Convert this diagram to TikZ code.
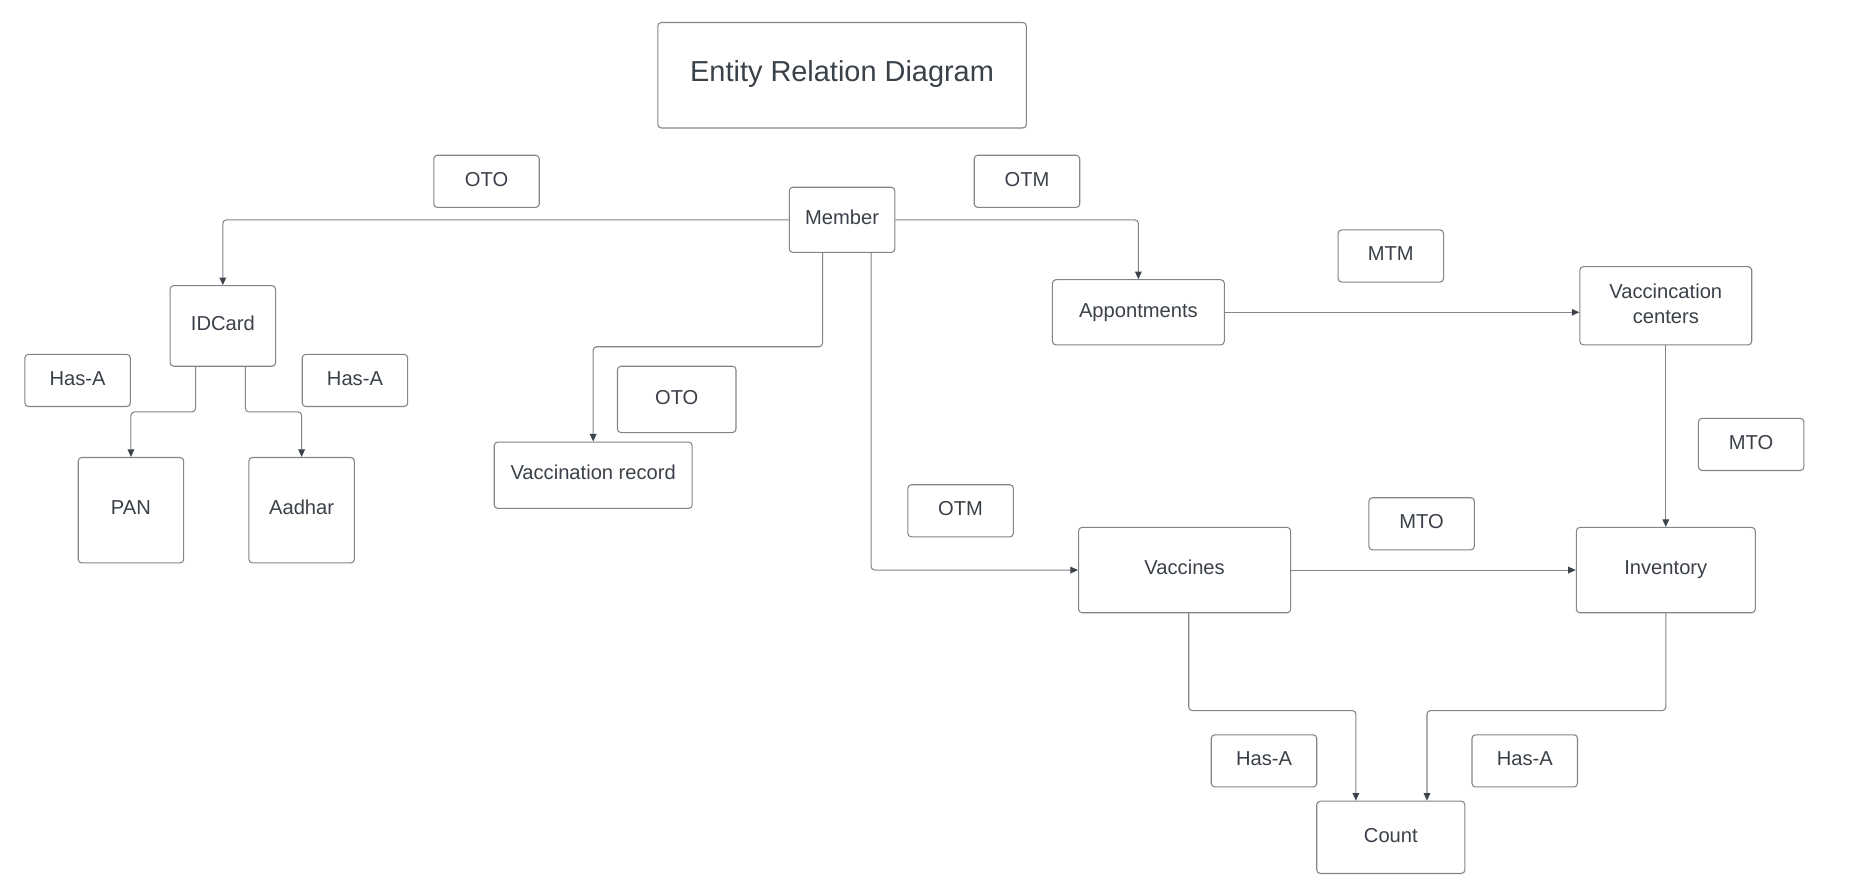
\documentclass[tikz,border=0pt]{standalone}
\usepackage{fontspec}
\setmainfont{Liberation Sans}
\usetikzlibrary{calc,arrows.meta}
\definecolor{bordergray}{HTML}{80858B}
\definecolor{textgray}{HTML}{3B4149}
\definecolor{arrowgray}{HTML}{3D434A}
\tikzset{
  box/.style={draw=bordergray, line width=0.45pt, rounded corners=1.5pt, text=textgray,
    font=\fontsize{8.5pt}{10.5pt}\selectfont, align=center, inner sep=0pt,
    text height=6.5pt, text depth=2.5pt},
  conn/.style={draw=bordergray, line width=0.45pt, rounded corners=1.5pt,
    -{Triangle[length=3.2pt,width=2.8pt,color=arrowgray]}},
}
\begin{document}
\begin{tikzpicture}[x=0.5pt,y=-0.5pt]
\useasboundingbox[fill=white] (0,0) rectangle (1566,741.6);
\node[box, minimum width=155.5pt, minimum height=44.5pt, font=\fontsize{12.2pt}{14pt}\selectfont, text height=9pt, text depth=4pt] (title) at (710.5,63.5) {Entity Relation Diagram};
\node[box, minimum width=44.5pt, minimum height=22pt] (oto1) at (410.5,153) {OTO};
\node[box, minimum width=44.5pt, minimum height=22pt] (otm1) at (866.5,153) {OTM};
\node[box, minimum width=44.5pt, minimum height=27.5pt] (member) at (710.5,185.5) {Member};
\node[box, minimum width=44.5pt, minimum height=34pt] (idcard) at (188,275) {IDCard};
\node[box, minimum width=44.5pt, minimum height=22pt] (hasa1) at (65.5,321) {Has-A};
\node[box, minimum width=44.5pt, minimum height=22pt] (hasa2) at (299.5,321) {Has-A};
\node[box, minimum width=44.5pt, minimum height=44.5pt] (pan) at (110.5,430.5) {PAN};
\node[box, minimum width=44.5pt, minimum height=44.5pt] (aadhar) at (254.5,430.5) {Aadhar};
\node[box, minimum width=83.5pt, minimum height=28pt] (vrec) at (500.5,401) {Vaccination record};
\node[box, minimum width=50pt, minimum height=28pt] (oto2) at (571,337) {OTO};
\node[box, minimum width=72.5pt, minimum height=27.5pt] (appt) at (960.5,263.5) {Appontments};
\node[box, minimum width=44.5pt, minimum height=22pt] (mtm) at (1173.5,216) {MTM};
\node[box, minimum width=72.5pt, minimum height=33pt, text height={}, text depth={}] (vcent) at (1405.5,258) {\begin{tabular}{@{}c@{}}Vaccincation\\centers\end{tabular}};
\node[box, minimum width=44.5pt, minimum height=22pt] (mto1) at (1477.5,375) {MTO};
\node[box, minimum width=44.5pt, minimum height=22pt] (otm2) at (810.5,431) {OTM};
\node[box, minimum width=89.5pt, minimum height=36pt] (vaccines) at (999.5,481) {Vaccines};
\node[box, minimum width=44.5pt, minimum height=22pt] (mto2) at (1199.5,442) {MTO};
\node[box, minimum width=75.5pt, minimum height=36pt] (inventory) at (1405.5,481) {Inventory};
\node[box, minimum width=44.5pt, minimum height=22pt] (hasa3) at (1066.5,642) {Has-A};
\node[box, minimum width=44.5pt, minimum height=22pt] (hasa4) at (1286.5,642) {Has-A};
\node[box, minimum width=62.5pt, minimum height=30.5pt] (count) at (1173.5,706.5) {Count};

\draw[conn] (member.west) -| (idcard.north);
\draw[conn] (member.east) -| (appt.north);
\draw[conn] ($(member.south)+(-16.5,0)$) |- ($(vrec.north)+(0,-80)$) -- (vrec.north);
\draw[conn] ($(member.south)+(24.5,0)$) |- (vaccines.west);
\draw[conn] ($(idcard.south)+(-23,0)$) |- ($(pan.north)+(0,-38)$) -- (pan.north);
\draw[conn] ($(idcard.south)+(19,0)$) |- ($(aadhar.north)+(0,-38)$) -- (aadhar.north);
\draw[conn] (appt.east) -- (appt.east -| vcent.west);
\draw[conn] (vcent.south) -- (inventory.north);
\draw[conn] (vaccines.east) -- (inventory.west);
\draw[conn] ($(vaccines.south)+(3.5,0)$) |- ($(count.north)+(-29.5,-76)$) -- ($(count.north)+(-29.5,0)$);
\draw[conn] (inventory.south) |- ($(count.north)+(30.5,-76)$) -- ($(count.north)+(30.5,0)$);
\end{tikzpicture}
\end{document}
